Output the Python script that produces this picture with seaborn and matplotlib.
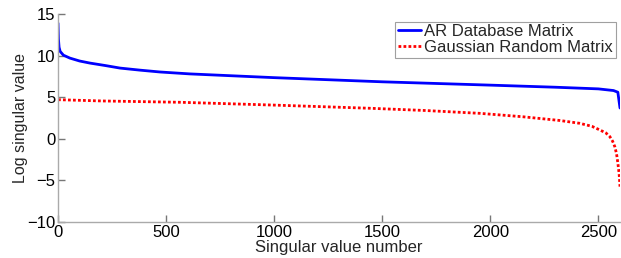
import matplotlib
matplotlib.use("Agg")
import matplotlib.pyplot as plt
import seaborn as sns
import pandas as pd

# --- datos ---
ar_x = [0, 2, 5, 10, 25, 55, 100, 148, 220, 287, 380, 472, 610, 1000, 1500, 2000, 2300, 2500, 2570, 2590, 2600]
ar_y = [13.9, 12.0, 11.0, 10.5, 10.05, 9.7, 9.35, 9.1, 8.8, 8.5, 8.25, 8.03, 7.8, 7.35, 6.85, 6.45, 6.2, 6.0, 5.8, 5.6, 3.7]

gauss_x = [0, 200, 564, 1000, 1443, 1700, 1952, 2150, 2322, 2414, 2470, 2507, 2535, 2553, 2566, 2576, 2584, 2590, 2596, 2600]
gauss_y = [4.7, 4.55, 4.39, 4.05, 3.67, 3.4, 3.06, 2.65, 2.2, 1.86, 1.5, 1.06, 0.7, 0.26, -0.3, -0.95, -1.8, -2.9, -4.2, -5.75]

labels = ["AR Database Matrix", "Gaussian Random Matrix"]
x_ticks = [0, 500, 1000, 1500, 2000, 2500]
y_ticks = [-10, -5, 0, 5, 10, 15]

sns.set_style("ticks", {'xtick.direction': 'in', 'ytick.direction': 'in'})
plt.rcParams['font.family'] = ['Liberation Sans', 'DejaVu Sans']

df_ar = pd.DataFrame({'x': ar_x, 'y': ar_y})
df_g = pd.DataFrame({'x': gauss_x, 'y': gauss_y})

fig = plt.figure(figsize=(6.21, 2.58), dpi=100)
ax = fig.add_axes([58 / 621, 1 - 222 / 258, (620 - 58) / 621, (222 - 14) / 258])

sns.lineplot(data=df_ar, x='x', y='y', ax=ax, color='#0000FF', linewidth=2.0, label=labels[0])
sns.lineplot(data=df_g, x='x', y='y', ax=ax, color='#FF0000', linewidth=2.0,
             linestyle=(0, (1, 0.8)), label=labels[1])

ax.set_xlim(0, 2600)
ax.set_ylim(-10, 15)
ax.set_xticks(x_ticks)
ax.set_yticks(y_ticks)
ax.set_xlabel("Singular value number", fontsize=12, labelpad=0)
ax.set_ylabel("Log singular value", fontsize=11.5, labelpad=-1)
ax.tick_params(which='major', bottom=True, left=True, direction='in', length=5, width=1.0,
               color='#777777', labelcolor='black', labelsize=12, pad=2)
for t in ax.xaxis.get_major_ticks() + ax.yaxis.get_major_ticks():
    t.tick1line.set_visible(True)
    t.tick1line.set_zorder(5)

sns.despine(ax=ax)
for side in ['left', 'bottom']:
    ax.spines[side].set_color('#aaaaaa')
    ax.spines[side].set_linewidth(1.0)

leg = ax.legend(loc='upper right', bbox_to_anchor=(0.992, 0.963), fontsize=12, frameon=True,
                fancybox=False, handlelength=1.4, handletextpad=0.2, borderpad=0.15,
                labelspacing=0.05, borderaxespad=0.0)
leg.get_frame().set_edgecolor('#888888')
leg.get_frame().set_linewidth(0.8)

plt.savefig('out.png', dpi=100)
